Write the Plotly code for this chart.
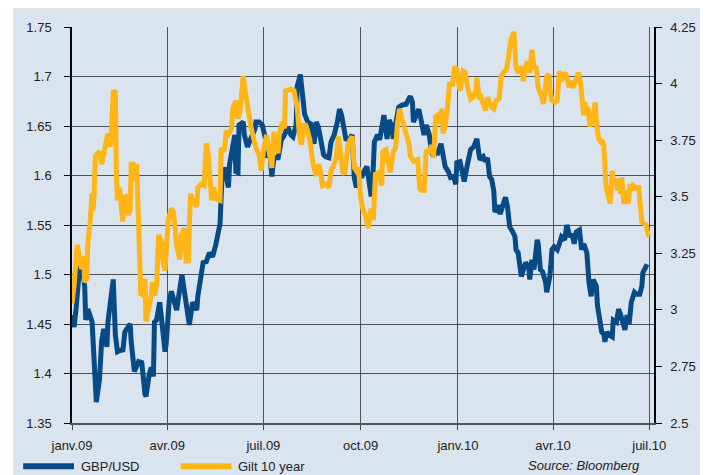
import plotly.graph_objects as go
import pandas as pd

# ---------------------------------------------------------------------------
# Data: day offsets from START, daily-ish values
# ---------------------------------------------------------------------------
START = "2009-01-01"

GBP_DAYS = [
    0, 2, 4, 8, 11, 12, 13, 15, 19, 22, 23, 26, 28, 30, 33, 34, 39, 41, 43, 47,
    48, 50, 55, 56, 59, 63, 66, 69, 70, 73, 75, 77, 78, 80, 83, 88, 89, 92, 94, 99,
    104, 106, 108, 111, 114, 118, 119, 124, 127, 130, 133, 136, 140, 142, 144, 146, 148, 149, 152, 154,
    155, 157, 158, 162, 163, 166, 169, 173, 174, 177, 180, 183, 185, 187, 189, 191, 195, 198, 201, 204,
    207, 209, 212, 213, 216, 218, 220, 223, 226, 229, 231, 233, 235, 238, 240, 243, 245, 248, 251, 253,
    255, 257, 259, 262, 265, 267, 269, 272, 274, 276, 279, 283, 284, 286, 289, 291, 294, 295, 298, 300,
    302, 304, 306, 309, 312, 316, 320, 322, 323, 326, 328, 330, 333, 335, 338, 340, 342, 344, 346, 349,
    351, 353, 356, 358, 361, 363, 364, 367, 369, 371, 374, 377, 380, 383, 385, 386, 389, 391, 393, 395,
    397, 399, 400, 403, 405, 408, 410, 412, 414, 417, 419, 420, 422, 425, 427, 429, 432, 433, 435, 437,
    440, 441, 443, 445, 448, 449, 452, 454, 456, 459, 461, 463, 466, 468, 471, 473, 475, 477, 480, 482,
    484, 487, 489, 491, 493, 496, 497, 500, 501, 503, 504, 506, 508, 511, 512, 515, 517, 519, 521, 523,
    525, 527, 529, 532, 534, 537, 539, 540, 543, 545,
]
GBP_USD = [
    1.459, 1.447, 1.467, 1.518, 1.498, 1.488, 1.454, 1.465, 1.452, 1.373, 1.371, 1.394, 1.432, 1.445, 1.427, 1.452, 1.495, 1.439, 1.422, 1.424,
    1.422, 1.442, 1.450, 1.432, 1.402, 1.412, 1.411, 1.379, 1.377, 1.399, 1.406, 1.397, 1.452, 1.454, 1.472, 1.422, 1.429, 1.474, 1.483, 1.464,
    1.500, 1.485, 1.467, 1.449, 1.472, 1.464, 1.478, 1.512, 1.513, 1.522, 1.518, 1.530, 1.551, 1.601, 1.608, 1.598, 1.588, 1.611, 1.632, 1.641,
    1.604, 1.603, 1.651, 1.654, 1.641, 1.629, 1.637, 1.647, 1.654, 1.654, 1.651, 1.637, 1.618, 1.624, 1.599, 1.618, 1.618, 1.636, 1.641, 1.649,
    1.641, 1.639, 1.651, 1.690, 1.702, 1.674, 1.662, 1.654, 1.652, 1.632, 1.654, 1.649, 1.636, 1.621, 1.619, 1.618, 1.634, 1.641, 1.654, 1.667,
    1.661, 1.647, 1.637, 1.636, 1.641, 1.598, 1.588, 1.601, 1.598, 1.604, 1.609, 1.579, 1.584, 1.634, 1.641, 1.636, 1.659, 1.661, 1.637, 1.656,
    1.651, 1.637, 1.651, 1.669, 1.671, 1.672, 1.680, 1.674, 1.654, 1.662, 1.667, 1.657, 1.641, 1.651, 1.641, 1.624, 1.619, 1.624, 1.623, 1.632,
    1.619, 1.609, 1.604, 1.598, 1.599, 1.591, 1.613, 1.614, 1.604, 1.594, 1.611, 1.626, 1.629, 1.637, 1.621, 1.616, 1.619, 1.614, 1.618, 1.599,
    1.596, 1.584, 1.563, 1.570, 1.561, 1.570, 1.578, 1.568, 1.548, 1.543, 1.538, 1.525, 1.522, 1.498, 1.508, 1.512, 1.508, 1.495, 1.515, 1.505,
    1.535, 1.531, 1.505, 1.503, 1.492, 1.482, 1.498, 1.525, 1.528, 1.525, 1.531, 1.538, 1.535, 1.550, 1.538, 1.541, 1.531, 1.543, 1.545, 1.525,
    1.531, 1.522, 1.492, 1.478, 1.495, 1.488, 1.469, 1.452, 1.442, 1.440, 1.432, 1.442, 1.439, 1.437, 1.454, 1.452, 1.465, 1.459, 1.449, 1.444,
    1.459, 1.450, 1.472, 1.482, 1.480, 1.480, 1.488, 1.502, 1.508, 1.507,
]

GILT_DAYS = [
    0, 2, 5, 8, 9, 11, 12, 14, 15, 17, 19, 20, 21, 22, 24, 26, 28, 30, 31, 33,
    34, 36, 37, 39, 41, 42, 43, 45, 47, 48, 50, 52, 53, 55, 56, 58, 59, 61, 63, 65,
    67, 69, 70, 73, 75, 76, 78, 80, 82, 85, 86, 88, 89, 91, 94, 96, 99, 102, 103, 106,
    108, 110, 112, 114, 118, 119, 122, 125, 127, 129, 132, 134, 136, 140, 141, 144, 146, 147, 151, 152,
    155, 157, 159, 162, 164, 166, 169, 171, 174, 177, 179, 181, 184, 185, 187, 189, 191, 193, 195, 196,
    199, 201, 202, 207, 210, 212, 213, 215, 217, 219, 221, 223, 225, 228, 231, 233, 235, 237, 240, 243,
    245, 248, 250, 252, 254, 256, 258, 261, 263, 265, 267, 269, 271, 273, 275, 278, 280, 283, 285, 287,
    290, 293, 294, 297, 299, 301, 304, 306, 308, 310, 312, 316, 319, 320, 323, 327, 329, 331, 333, 335,
    338, 339, 340, 342, 344, 346, 348, 350, 351, 353, 355, 357, 360, 362, 364, 366, 367, 370, 372, 374,
    377, 379, 382, 383, 385, 387, 389, 391, 393, 395, 397, 399, 401, 404, 406, 408, 411, 413, 415, 418,
    420, 422, 425, 427, 429, 431, 433, 435, 437, 439, 441, 444, 446, 449, 451, 452, 454, 457, 459, 461,
    463, 466, 468, 470, 471, 474, 477, 479, 481, 482, 484, 485, 487, 488, 490, 493, 495, 496, 498, 500,
    501, 503, 504, 505, 506, 508, 509, 511, 512, 515, 516, 518, 519, 520, 522, 524, 526, 528, 530, 531,
    533, 536, 537, 539, 541, 543, 545, 546,
]
GILT_10Y = [
    3.028, 3.108, 3.288, 3.209, 3.180, 3.238, 3.122, 3.137, 3.296, 3.382, 3.513, 3.440, 3.513, 3.679, 3.693, 3.700, 3.643, 3.700, 3.708, 3.773,
    3.780, 3.722, 3.751, 3.968, 3.961, 3.599, 3.484, 3.541, 3.411, 3.390, 3.505, 3.498, 3.419, 3.440, 3.643, 3.643, 3.570, 3.643, 3.382, 3.071,
    3.064, 3.137, 2.949, 3.006, 3.064, 3.122, 3.064, 3.108, 3.332, 3.296, 3.223, 3.173, 3.267, 3.397, 3.447, 3.433, 3.281, 3.223, 3.325, 3.361,
    3.216, 3.216, 3.513, 3.484, 3.455, 3.541, 3.556, 3.549, 3.737, 3.686, 3.484, 3.541, 3.491, 3.484, 3.715, 3.700, 3.795, 3.766, 3.802, 3.889,
    3.925, 3.845, 3.881, 4.033, 3.961, 3.896, 3.816, 3.773, 3.715, 3.686, 3.614, 3.700, 3.773, 3.744, 3.679, 3.628, 3.787, 3.715, 3.693, 3.773,
    3.831, 3.802, 3.968, 3.975, 3.968, 3.903, 3.896, 3.780, 3.729, 3.816, 3.816, 3.787, 3.751, 3.643, 3.592, 3.643, 3.614, 3.549, 3.556, 3.541,
    3.614, 3.643, 3.672, 3.766, 3.700, 3.614, 3.599, 3.729, 3.751, 3.766, 3.628, 3.614, 3.628, 3.498, 3.447, 3.411, 3.361, 3.447, 3.397, 3.599,
    3.607, 3.549, 3.700, 3.708, 3.657, 3.607, 3.700, 3.715, 3.831, 3.889, 3.845, 3.773, 3.729, 3.679, 3.657, 3.664, 3.534, 3.527, 3.527, 3.700,
    3.708, 3.693, 3.729, 3.672, 3.852, 3.860, 3.823, 3.889, 3.780, 3.816, 3.881, 3.997, 3.997, 4.076, 4.062, 3.997, 3.968, 4.055, 4.048, 3.990,
    3.932, 3.939, 3.968, 4.026, 3.932, 3.939, 3.910, 3.881, 3.939, 3.910, 3.896, 3.889, 3.925, 3.932, 4.033, 4.048, 4.062, 4.120, 4.192, 4.228,
    4.069, 4.048, 4.076, 4.011, 4.076, 4.098, 4.048, 4.149, 4.069, 4.076, 3.982, 3.946, 3.910, 4.033, 4.040, 3.975, 3.925, 3.917, 3.925, 4.055,
    4.011, 4.048, 4.033, 3.982, 4.011, 3.982, 4.019, 4.048, 4.004, 3.946, 3.860, 3.917, 3.874, 3.896, 3.809, 3.860, 3.917, 3.831, 3.758, 3.744,
    3.751, 3.729, 3.570, 3.556, 3.527, 3.498, 3.469, 3.614, 3.570, 3.570, 3.527, 3.578, 3.513, 3.585, 3.469, 3.527, 3.469, 3.556, 3.527, 3.549,
    3.541, 3.541, 3.469, 3.390, 3.381, 3.375, 3.332, 3.325,
]

X_TICKS = ["2009-01-01", "2009-04-01", "2009-07-01", "2009-10-01",
           "2010-01-01", "2010-04-01", "2010-07-01"]
X_LABELS = ["janv.09", "avr.09", "juil.09", "oct.09", "janv.10", "avr.10", "juil.10"]
LEFT_TICKS = [1.35, 1.4, 1.45, 1.5, 1.55, 1.6, 1.65, 1.7, 1.75]
LEFT_LABELS = ["1.35", "1.4", "1.45", "1.5", "1.55", "1.6", "1.65", "1.7", "1.75"]
RIGHT_TICKS = [2.5, 2.75, 3, 3.25, 3.5, 3.75, 4, 4.25]
RIGHT_LABELS = ["2.5", "2.75", "3", "3.25", "3.5", "3.75", "4", "4.25"]

BLUE = "#084a85"
ORANGE = "#ffb515"
BG = "#dae4ee"
GRID = "rgba(55,55,55,0.85)"
TXT = "#222222"
FONT = "Liberation Sans, Arial, sans-serif"

# page has an 8px body margin -> figure is 700x467, placed at (8, 8) in the window
OFF = 8
WIN_W, WIN_H = 708, 475
PL, PR, PT, PB = 72, 656, 20, 423   # plot area, window pixels
W, H = WIN_W - OFF, WIN_H - OFF


def px(x):
    return (x - PL) / (PR - PL)


def py(y):
    return (PB - y) / (PB - PT)


start = pd.Timestamp(START)
gbp_x = start + pd.to_timedelta(GBP_DAYS, unit="D")
gilt_x = start + pd.to_timedelta(GILT_DAYS, unit="D")

fig = go.Figure()
fig.add_trace(go.Scatter(x=gbp_x, y=GBP_USD, mode="lines", name="GBP/USD",
                         line=dict(color=BLUE, width=5), yaxis="y"))
fig.add_trace(go.Scatter(x=gilt_x, y=GILT_10Y, mode="lines", name="Gilt 10 year",
                         line=dict(color=ORANGE, width=5), yaxis="y2"))

# white strip on the left edge of the panel
shapes = [dict(type="rect", xref="paper", yref="paper", x0=px(0), x1=px(13), y0=py(WIN_H + 5), y1=py(0),
               fillcolor="white", line=dict(width=0), layer="below")]
# hand-drawn legend swatches
shapes.append(dict(type="line", xref="paper", yref="paper", x0=px(23), x1=px(74), y0=py(467), y1=py(467),
                   line=dict(color=BLUE, width=6)))
shapes.append(dict(type="line", xref="paper", yref="paper", x0=px(181), x1=px(232), y0=py(467), y1=py(467),
                   line=dict(color=ORANGE, width=6)))

annotations = [
    dict(text="GBP/USD", xref="paper", yref="paper", x=px(79), y=py(467), xanchor="left", yanchor="middle",
         showarrow=False, font=dict(size=13, color=TXT)),
    dict(text="Gilt 10 year", xref="paper", yref="paper", x=px(237), y=py(467), xanchor="left", yanchor="middle",
         showarrow=False, font=dict(size=13, color=TXT)),
    dict(text="<i>Source: Bloomberg</i>", xref="paper", yref="paper", x=px(644), y=py(466), xanchor="right",
         yanchor="middle", showarrow=False, font=dict(size=13, color=TXT)),
]

fig.update_layout(
    width=W, height=H,
    margin=dict(l=PL - OFF, r=WIN_W - PR, t=PT - OFF, b=WIN_H - PB),
    paper_bgcolor=BG, plot_bgcolor=BG,
    font=dict(family=FONT, size=13, color=TXT),
    showlegend=False,
    shapes=shapes, annotations=annotations,
    xaxis=dict(type="date", range=["2009-01-01", "2010-07-05 12:00"],
               tickvals=X_TICKS, ticktext=X_LABELS,
               ticks="outside", ticklen=5, tickcolor="#444", tickwidth=1,
               showgrid=True, gridcolor=GRID, gridwidth=1,
               showline=True, linecolor="#555", linewidth=2, zeroline=False,
               ticklabelstandoff=4, tickfont=dict(size=13, color=TXT)),
    yaxis=dict(range=[1.35, 1.75], tickvals=LEFT_TICKS, ticktext=LEFT_LABELS,
               ticks="outside", ticklen=6, tickcolor="black",
               showgrid=True, gridcolor=GRID, gridwidth=1,
               showline=True, linecolor="black", linewidth=1.5, zeroline=False,
               ticklabelstandoff=10, tickfont=dict(size=13, color=TXT)),
    yaxis2=dict(range=[2.5, 4.25], tickvals=RIGHT_TICKS, ticktext=RIGHT_LABELS,
                overlaying="y", side="right", anchor="x",
                ticks="outside", ticklen=6, tickcolor="black",
                showgrid=False, showline=True, linecolor="black", linewidth=1.5, zeroline=False,
                ticklabelstandoff=6, tickfont=dict(size=13, color=TXT)),
    yaxis3=dict(range=[2.5, 4.25], tickvals=RIGHT_TICKS,
                overlaying="y", side="right", anchor="x",
                ticks="inside", ticklen=6, tickcolor="black",
                showticklabels=False, showgrid=False, showline=False, zeroline=False),
)

fig.write_html("out.html")
